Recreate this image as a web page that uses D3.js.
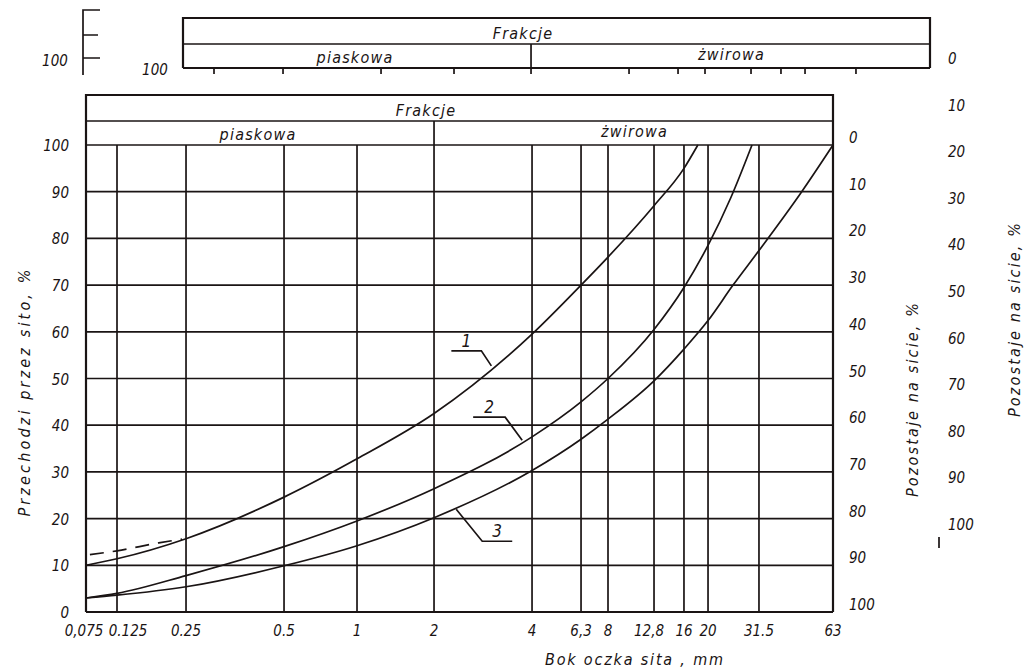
<!DOCTYPE html>
<html>
<head>
<meta charset="utf-8">
<script src="https://cdn.jsdelivr.net/npm/d3@7"></script>
<style>
  body { margin: 0; background: #fff; }
  svg text {
    font-family: "Liberation Sans Narrow", "DejaVu Sans Condensed", "DejaVu Sans", sans-serif;
    font-style: italic;
    fill: #1a1414;
  }
  .grid { stroke: #1a1414; stroke-width: 1.7; fill: none; }
  .frame { stroke: #1a1414; stroke-width: 2.2; fill: none; }
  .curve { stroke: #1a1414; stroke-width: 1.7; fill: none; }
</style>
</head>
<body>
<svg id="chart" width="1024" height="672"></svg>
<script>
// Sieve sizes (mm) and the way they are printed under the grid
const sieves = [0.075, 0.125, 0.25, 0.5, 1, 2, 4, 6.3, 8, 12.8, 16, 20, 31.5, 63];
const sieveLabels = ["0,075", "0.125", "0.25", "0.5", "1", "2", "4", "6,3", "8", "12,8", "16", "20", "31.5", "63"];
const percentTicks = [0, 10, 20, 30, 40, 50, 60, 70, 80, 90, 100];

// Grading curves: [sieve mm, % passing]
const curve1 = [[0.075, 10], [0.125, 11.4], [0.25, 15.7], [0.5, 24.6], [1, 32.8], [2, 42.5],
  [4, 59.5], [6.3, 70], [8, 76], [12.8, 87], [16, 95], [18.2, 100]];
const curve1Dashed = [[0.08, 12.3], [0.125, 13.1], [0.19, 14.8], [0.24, 15.6]];
const curve2 = [[0.075, 3], [0.125, 4], [0.25, 7.8], [0.5, 14], [1, 19.5], [2, 26.4],
  [4, 37.5], [6.3, 45], [8, 50], [12.8, 60.5], [16, 69.5], [20, 78.5], [24.5, 88.7], [29.6, 100]];
const curve3 = [[0.075, 3], [0.125, 3.6], [0.25, 5.4], [0.5, 9.9], [1, 14.2], [2, 20.2],
  [4, 30.3], [6.3, 37], [8, 41.3], [12.8, 49.5], [16, 56.3], [20, 62.4], [25, 70],
  [31.5, 77.4], [47, 90], [63, 100]];

// Curve numbers and where their leader lines touch the curve
const curveNames = ["1", "2", "3"];
const curveNamePoints = [[3.0, 52.7], [3.73, 36.8], [2.34, 22]];

const fractionTitle = "Frakcje";
const fractionNames = ["piaskowa", "żwirowa"];
const leftTitle = "Przechodzi przez sito, %";
const rightTitle = "Pozostaje na sicie, %";
const bottomTitle = "Bok oczka sita , mm";

// Layout
const plot = { left: 86, right: 833, top: 145, bottom: 612 };
// the hand-drawn sieve lines are not evenly spaced: share of plot width for each sieve
const sieveStops = [0, 0.0415, 0.1339, 0.2651, 0.3628, 0.4659, 0.5971, 0.6627,
  0.6988, 0.7604, 0.8005, 0.8327, 0.9009, 1];
const headerTop = 95, headerMid = 121;
const ghostShift = [97, -77];
// leader shape for each curve number: knee offset and underline length
const leaderShapes = [
  { dx: -10, dy: -15, len: -30 },
  { dx: -17, dy: -23, len: -32 },
  { dx: 26, dy: 32, len: 30 },
];

const svg = d3.select("#chart");

const x = d3.scaleLog()
  .domain(sieves)
  .range(sieveStops.map((f) => plot.left + f * (plot.right - plot.left)));
const y = d3.scaleLinear().domain([0, 100]).range([plot.bottom, plot.top]);
// second (ghost) retained scale on the far right of the scan
const yGhost = d3.scaleLinear().domain([0, 100]).range([58, 524]);

// Header with fraction names (drawn twice: the scan has a shifted copy)
function drawHeader(g, ticks) {
  const x0 = x(sieves[0]), x1 = x(sieves[sieves.length - 1]);
  const xd = x(2);
  g.append("path").attr("class", "frame")
    .attr("d", `M${x0},${plot.top} V${headerTop} H${x1} V${plot.top}`);
  g.append("line").attr("class", "grid")
    .attr("x1", x0).attr("x2", x1).attr("y1", headerMid).attr("y2", headerMid);
  g.append("line").attr("class", "grid")
    .attr("x1", xd).attr("x2", xd).attr("y1", headerMid).attr("y2", plot.top);
  g.append("text").attr("x", xd - 8).attr("y", headerMid - 5)
    .attr("text-anchor", "middle").attr("font-size", 16).attr("letter-spacing", 1.2)
    .text(fractionTitle);
  g.append("text").attr("x", (x0 + xd) / 2 - 2).attr("y", plot.top - 5)
    .attr("text-anchor", "middle").attr("font-size", 16).attr("letter-spacing", 1.2)
    .text(fractionNames[0]);
  g.append("text").attr("x", (xd + x1) / 2 + 1).attr("y", plot.top - 8)
    .attr("text-anchor", "middle").attr("font-size", 16).attr("letter-spacing", 1.2)
    .text(fractionNames[1]);
  if (ticks) {
    g.append("line").attr("class", "frame")
      .attr("x1", x0).attr("x2", x1).attr("y1", plot.top).attr("y2", plot.top);
    g.selectAll(".stub")
      .data(sieves.slice(1, -1))
      .enter()
      .append("line")
      .attr("class", "grid")
      .attr("x1", (d) => x(d)).attr("x2", (d) => x(d))
      .attr("y1", plot.top).attr("y2", plot.top + 6);
  }
}

drawHeader(svg.append("g").attr("transform", `translate(${ghostShift[0]},${ghostShift[1]})`), true);
drawHeader(svg.append("g"), false);

// Grid
svg.selectAll(".hgrid")
  .data(percentTicks)
  .enter()
  .append("line")
  .attr("class", "grid")
  .attr("x1", x(sieves[0])).attr("x2", x(sieves[sieves.length - 1]))
  .attr("y1", (d) => y(d)).attr("y2", (d) => y(d));

svg.selectAll(".vgrid")
  .data(sieves)
  .enter()
  .append("line")
  .attr("class", (d, i) => (i === 0 || i === sieves.length - 1 ? "frame" : "grid"))
  .attr("x1", (d) => x(d)).attr("x2", (d) => x(d))
  .attr("y1", y(0)).attr("y2", y(100));

svg.append("line").attr("class", "frame")
  .attr("x1", x(sieves[0])).attr("x2", x(sieves[sieves.length - 1]))
  .attr("y1", y(0)).attr("y2", y(0));

// Curves
const line = d3.line()
  .x((d) => x(d[0]))
  .y((d) => y(d[1]))
  .curve(d3.curveMonotoneX);

[curve1, curve2, curve3].forEach((c) => {
  svg.append("path").attr("class", "curve").attr("d", line(c));
});
svg.append("path").attr("class", "curve")
  .attr("stroke-dasharray", "14,9")
  .attr("d", line(curve1Dashed));

// Curve numbers with leader lines
curveNames.forEach((name, i) => {
  const [d, v] = curveNamePoints[i];
  const s = leaderShapes[i];
  const ax = x(d), ay = y(v);
  const kx = ax + s.dx, ky = ay + s.dy;
  svg.append("path").attr("class", "curve")
    .attr("d", `M${ax},${ay} L${kx},${ky} H${kx + s.len}`);
  svg.append("text")
    .attr("x", kx + s.len / 2).attr("y", ky - 4)
    .attr("text-anchor", "middle").attr("font-size", 17)
    .text(name);
});

// Axis labels
svg.selectAll(".xlab")
  .data(sieves)
  .enter()
  .append("text")
  .attr("x", (d) => x(d) + (d === 0.125 ? 11 : d === 0.075 ? -2 : d === 12.8 ? -5 : 0))
  .attr("y", plot.bottom + 24)
  .attr("text-anchor", "middle")
  .attr("font-size", 15)
  .text((d, i) => sieveLabels[i]);

svg.selectAll(".ylab")
  .data(percentTicks)
  .enter()
  .append("text")
  .attr("x", 69)
  .attr("y", (d) => y(d) + 6)
  .attr("text-anchor", "end")
  .attr("font-size", 15)
  .text((d) => d);

svg.selectAll(".rlab")
  .data(percentTicks)
  .enter()
  .append("text")
  .attr("x", 849)
  .attr("y", (d) => y(100 - d) - 2)
  .attr("font-size", 15)
  .text((d) => d);

svg.selectAll(".glab")
  .data(percentTicks)
  .enter()
  .append("text")
  .attr("x", 948)
  .attr("y", (d) => yGhost(d) + 6)
  .attr("font-size", 15)
  .text((d) => d);

// Titles
function vTitle(cx, cy, len, txt) {
  svg.append("text")
    .attr("transform", `translate(${cx},${cy}) rotate(-90)`)
    .attr("text-anchor", "middle")
    .attr("dy", 5)
    .attr("font-size", 16)
    .attr("textLength", len)
    .attr("lengthAdjust", "spacing")
    .text(txt);
}
vTitle(25, 393, 247, leftTitle);
vTitle(913, 400, 194, rightTitle);
vTitle(1015, 320, 194, rightTitle);

svg.append("text")
  .attr("x", 634).attr("y", 670)
  .attr("text-anchor", "middle")
  .attr("font-size", 16)
  .attr("textLength", 178)
  .attr("lengthAdjust", "spacing")
  .attr("dy", -5)
  .text(bottomTitle);

// Scan leftovers: the shifted "100" marks and bracket top left, a stray stroke right
svg.append("path").attr("class", "grid")
  .attr("d", "M100,10 H83 V75 M83,35 H98 M83,58 H100");
svg.append("text").attr("x", 55).attr("y", 66).attr("text-anchor", "middle")
  .attr("font-size", 15).text(percentTicks[10]);
svg.append("text").attr("x", 155).attr("y", 75).attr("text-anchor", "middle")
  .attr("font-size", 15).text(percentTicks[10]);
svg.append("line").attr("class", "grid")
  .attr("x1", 939).attr("x2", 939).attr("y1", 537).attr("y2", 548);
</script>
</body>
</html>
